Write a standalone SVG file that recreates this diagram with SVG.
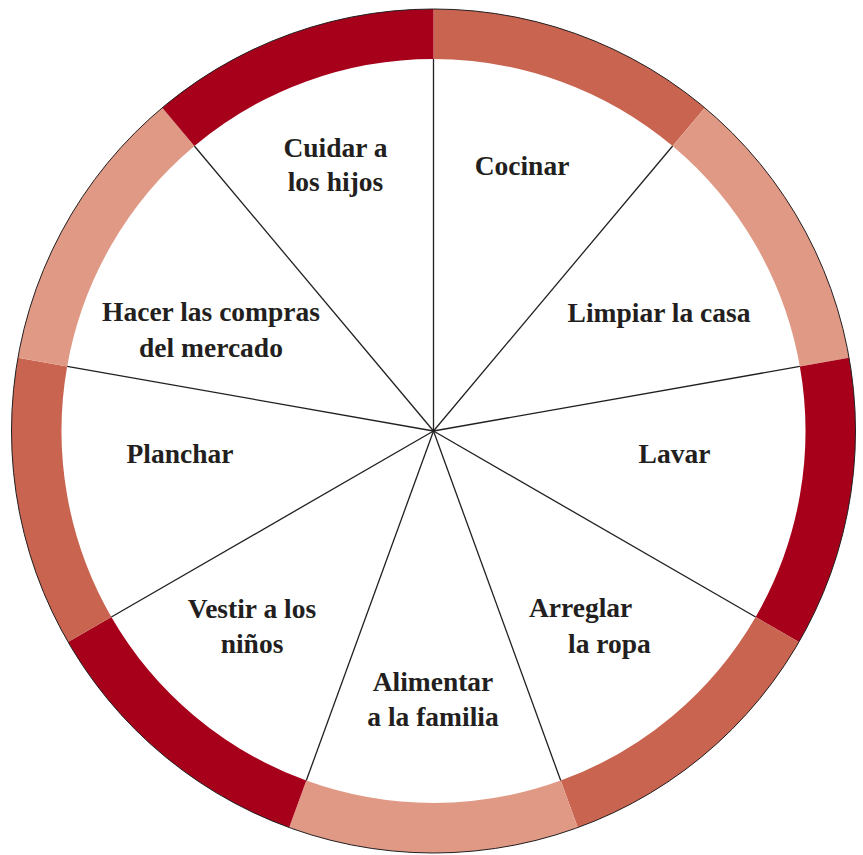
<svg xmlns="http://www.w3.org/2000/svg" width="863" height="855" viewBox="0 0 863 855">
<style>
.dk{fill:#a6001a}
.md{fill:#c8644f}
.lt{fill:#df9985}
.lbl{font-family:"Liberation Serif","Times New Roman",serif;font-weight:bold;font-size:27.5px;fill:#231f20;text-anchor:middle}
.st{text-anchor:start}
.sp{stroke:#231f20;stroke-width:1.3;fill:none}
</style>
<rect width="863" height="855" fill="#ffffff"/>
<g id="cocinar">
<path class="md" d="M433.5,9 A422,422 0 0 1 704.76,107.73 L672.62,146.03 A372,372 0 0 0 433.5,59 Z"/>
<text class="lbl" x="522" y="175">Cocinar</text>
</g>
<g id="limpiar">
<path class="lt" d="M704.76,107.73 A422,422 0 0 1 849.09,357.73 L799.85,366.41 A372,372 0 0 0 672.62,146.03 Z"/>
<text class="lbl" x="659" y="322">Limpiar la casa</text>
</g>
<g id="lavar">
<path class="dk" d="M849.09,357.73 A422,422 0 0 1 798.95,642 L755.65,617 A372,372 0 0 0 799.85,366.41 Z"/>
<text class="lbl" x="674.5" y="463">Lavar</text>
</g>
<g id="arreglar">
<path class="md" d="M798.95,642 A422,422 0 0 1 577.82,827.55 L560.72,780.57 A372,372 0 0 0 755.65,617 Z"/>
<text class="lbl st" x="529" y="617">Arreglar</text>
<text class="lbl st" x="568" y="653">la ropa</text>
</g>
<g id="alimentar">
<path class="lt" d="M577.82,827.55 A422,422 0 0 1 289.18,827.55 L306.28,780.57 A372,372 0 0 0 560.72,780.57 Z"/>
<text class="lbl" x="433" y="691">Alimentar</text>
<text class="lbl" x="433" y="726">a la familia</text>
</g>
<g id="vestir">
<path class="dk" d="M289.18,827.55 A422,422 0 0 1 68.05,642 L111.35,617 A372,372 0 0 0 306.28,780.57 Z"/>
<text class="lbl" x="252" y="618">Vestir a los</text>
<text class="lbl" x="252" y="653">niños</text>
</g>
<g id="planchar">
<path class="md" d="M68.05,642 A422,422 0 0 1 17.91,357.73 L67.15,366.41 A372,372 0 0 0 111.35,617 Z"/>
<text class="lbl" x="180" y="463">Planchar</text>
</g>
<g id="hacer">
<path class="lt" d="M17.91,357.73 A422,422 0 0 1 162.24,107.73 L194.38,146.03 A372,372 0 0 0 67.15,366.41 Z"/>
<text class="lbl" x="211" y="321">Hacer las compras</text>
<text class="lbl" x="211" y="357">del mercado</text>
</g>
<g id="cuidar">
<path class="dk" d="M162.24,107.73 A422,422 0 0 1 433.5,9 L433.5,59 A372,372 0 0 0 194.38,146.03 Z"/>
<text class="lbl" x="335.5" y="157">Cuidar a</text>
<text class="lbl" x="335.5" y="191">los hijos</text>
</g>
<circle cx="433.5" cy="431" r="422" fill="none" stroke="#231f20" stroke-width="1"/>
<g id="connectors" class="sp">
<line x1="433.5" y1="431" x2="433.5" y2="59"/>
<line x1="433.5" y1="431" x2="672.62" y2="146.03"/>
<line x1="433.5" y1="431" x2="799.85" y2="366.41"/>
<line x1="433.5" y1="431" x2="755.65" y2="617"/>
<line x1="433.5" y1="431" x2="560.72" y2="780.57"/>
<line x1="433.5" y1="431" x2="306.28" y2="780.57"/>
<line x1="433.5" y1="431" x2="111.35" y2="617"/>
<line x1="433.5" y1="431" x2="67.15" y2="366.41"/>
<line x1="433.5" y1="431" x2="194.38" y2="146.03"/>
</g>
</svg>
